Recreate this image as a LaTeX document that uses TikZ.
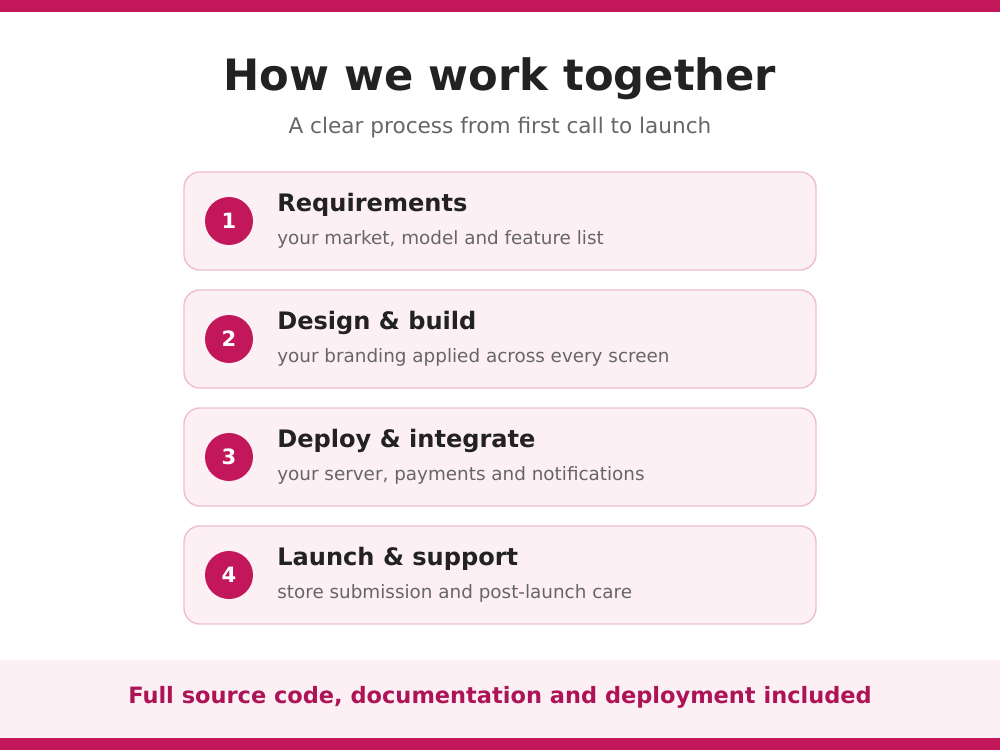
\documentclass[tikz,border=0pt]{standalone}
\usepackage{fontspec}
\setmainfont{DejaVu Sans}
\usetikzlibrary{positioning}
\definecolor{brand}{HTML}{C2185B}
\definecolor{branddark}{HTML}{AD1457}
\definecolor{cardfill}{HTML}{FCF0F4}
\definecolor{cardline}{HTML}{EFBFCF}
\definecolor{ink}{HTML}{222222}
\definecolor{muted}{HTML}{666666}
\begin{document}
\begin{tikzpicture}[x=0.02cm, y=-0.02cm]
        % Styles
        \tikzset{card/.style={draw=cardline, fill=cardfill, rounded corners=9pt, line width=0.8pt},
                 badge/.style={circle, fill=brand, minimum size=0.96cm, inner sep=0pt, text=white, font=\bfseries\fontsize{12}{14}\selectfont},
                 head/.style={anchor=west, text=ink, font=\bfseries\fontsize{13.7}{16}\selectfont, inner sep=0pt},
                 sub/.style={anchor=west, text=muted, font=\fontsize{10.45}{12}\selectfont, inner sep=0pt}}

        % Background and bars
        \useasboundingbox (0,0) rectangle (1000,750);
        \fill[white] (0,0) rectangle (1000,750);
        \fill[brand] (0,0) rectangle (1000,12);
        \fill[cardfill] (0,660) rectangle (1000,738);
        \fill[brand] (0,738) rectangle (1000,750);

        % Titles
        \node (title) at (500,79) [text=ink, font=\bfseries\fontsize{24.6}{28}\selectfont] {How we work together};
        \node (subtitle) at (500,128) [text=muted, font=\fontsize{12.3}{14}\selectfont] {A clear process from first call to launch};

        % Steps
        \foreach \n/\y/\h/\s in {1/172/Requirements/{your market, model and feature list},
                                 2/290/Design \& build/your branding applied across every screen,
                                 3/408/Deploy \& integrate/{your server, payments and notifications},
                                 4/526/Launch \& support/store submission and post-launch care} {
            \draw[card] (184,\y) rectangle (816,\y+98);
            \node (step\n) [badge] at (229,\y+49) {\n};
            \node (head\n) [head] at (277,\y+33) {\h};
            \node (sub\n) [sub] at (277,\y+67) {\s};
        }

        % Footer
        \node (footer) at (500,697) [text=branddark, font=\bfseries\fontsize{12.8}{15}\selectfont] {Full source code, documentation and deployment included};
\end{tikzpicture}
\end{document}
